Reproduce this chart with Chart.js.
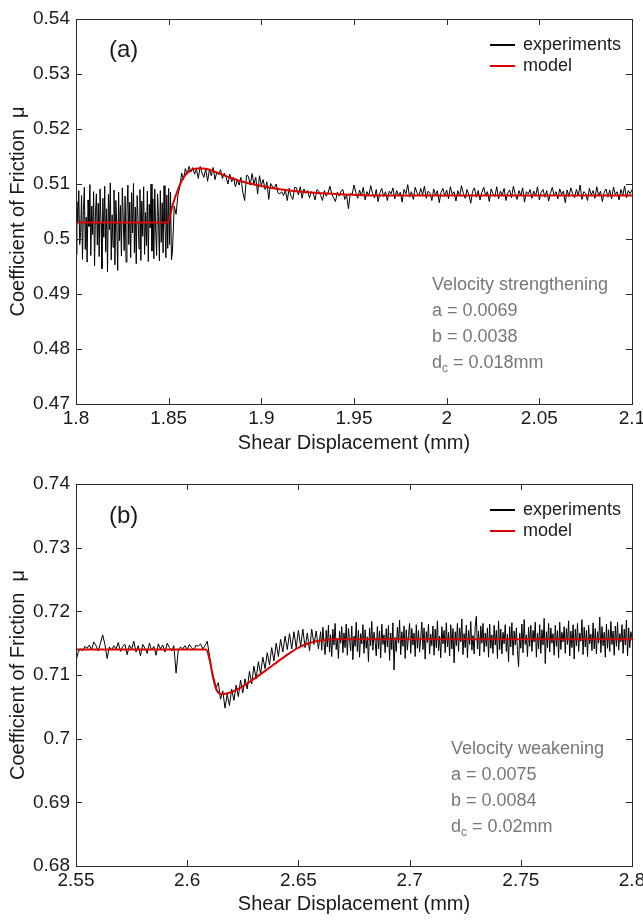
<!DOCTYPE html>
<html>
<head>
<meta charset="utf-8">
<script src="https://cdn.jsdelivr.net/npm/chart.js@4.4.0/dist/chart.umd.min.js"></script>
<style>
  html, body { margin: 0; padding: 0; background: #fff; }
  #wrap { position: relative; width: 643px; height: 922px; overflow: hidden; background: #fff; }
  #wrap canvas { position: absolute; left: 0; }
  #chartA { top: 0; }
  #chartB { top: 461px; }
</style>
</head>
<body>
<div id="wrap">
  <canvas id="chartA" width="660" height="461"></canvas>
  <canvas id="chartB" width="660" height="461"></canvas>
</div>
<script>
// ── Panel (a): velocity strengthening ───────────────────────
// fast-sampled noisy stretch: 1.8000 .. 1.8520 mm, every 0.0005 mm
const A_FINE_X0 = 1.8, A_FINE_DX = 0.0005;
const aExpFine = [
  0.4972,0.5068,0.5031,0.5088,0.4990,0.5012,0.5079,0.4963,0.5052,0.5094,
  0.4981,0.5040,0.4958,0.5071,0.5023,0.5099,0.4970,0.5060,0.5008,0.5086,
  0.4951,0.5047,0.5082,0.4989,0.5065,0.4968,0.5091,0.5030,0.4946,0.5074,
  0.5003,0.5096,0.4977,0.5055,0.4940,0.5081,0.5017,0.5102,0.4962,0.5044,
  0.4985,0.5089,0.4953,0.5070,0.5026,0.4943,0.5085,0.4997,0.5061,0.4969,
  0.5093,0.5036,0.4979,0.5078,0.4958,0.5050,0.5098,0.4990,0.5067,0.4966,
  0.5084,0.5011,0.5101,0.4975,0.5058,0.4955,0.5079,0.5034,0.4982,0.5090,
  0.4961,0.5069,0.5005,0.5095,0.4972,0.5048,0.4988,0.5087,0.4959,0.5063,
  0.5020,0.5100,0.4978,0.5073,0.4964,0.5091,0.5015,0.4970,0.5082,0.5041,
  0.4960,0.5088,0.4994,0.5066,0.4975,0.5097,0.5028,0.4966,0.5080,0.4983,
  0.5092,0.4990,0.5085,0.4962,0.4975
];
// rest of the run: 1.853 .. 2.100 mm, every 0.001 mm
const A_X0 = 1.853, A_DX = 0.001;
const aExp = [
                                   0.5060,0.5045,0.5080,0.5095,0.5120,0.5108,0.5128,
  0.5118,0.5132,0.5122,0.5130,0.5118,0.5127,0.5110,0.5132,0.5120,0.5112,
  0.5128,0.5105,0.5126,0.5115,0.5130,0.5108,0.5122,0.5117,0.5126,0.5110,
  0.5120,0.5112,0.5100,0.5118,0.5104,0.5112,0.5095,0.5108,0.5098,0.5112,
  0.5085,0.5070,0.5116,0.5114,0.5098,0.5119,0.5100,0.5112,0.5082,0.5115,
  0.5098,0.5108,0.5090,0.5104,0.5072,0.5101,0.5095,0.5093,0.5100,0.5084,
  0.5082,0.5086,0.5079,0.5089,0.5070,0.5092,0.5078,0.5072,0.5094,0.5093,
  0.5080,0.5095,0.5074,0.5091,0.5083,0.5088,0.5075,0.5086,0.5083,0.5071,
  0.5090,0.5087,0.5079,0.5070,0.5088,0.5078,0.5084,0.5096,0.5082,0.5075,
  0.5068,0.5085,0.5078,0.5087,0.5090,0.5072,0.5080,0.5055,0.5083,0.5081,
  0.5098,0.5085,0.5074,0.5089,0.5078,0.5094,0.5071,0.5086,0.5079,0.5097,
  0.5083,0.5075,0.5090,0.5068,0.5084,0.5092,0.5077,0.5086,0.5070,0.5087,
  0.5082,0.5093,0.5073,0.5088,0.5079,0.5085,0.5067,0.5090,0.5082,0.5099,
  0.5076,0.5086,0.5072,0.5094,0.5084,0.5078,0.5092,0.5080,0.5096,0.5074,
  0.5087,0.5083,0.5070,0.5091,0.5079,0.5088,0.5066,0.5085,0.5092,0.5077,
  0.5089,0.5073,0.5095,0.5081,0.5086,0.5069,0.5088,0.5078,0.5097,0.5083,
  0.5074,0.5090,0.5080,0.5065,0.5087,0.5093,0.5076,0.5088,0.5071,0.5085,
  0.5094,0.5079,0.5086,0.5068,0.5091,0.5082,0.5077,0.5095,0.5073,0.5087,
  0.5080,0.5092,0.5070,0.5084,0.5089,0.5075,0.5096,0.5081,0.5072,0.5088,
  0.5079,0.5093,0.5067,0.5086,0.5082,0.5090,0.5074,0.5087,0.5078,0.5095,
  0.5071,0.5085,0.5090,0.5076,0.5088,0.5069,0.5083,0.5094,0.5079,0.5086,
  0.5073,0.5091,0.5081,0.5087,0.5066,0.5089,0.5077,0.5093,0.5082,0.5075,
  0.5090,0.5079,0.5098,0.5072,0.5086,0.5083,0.5070,0.5092,0.5080,0.5088,
  0.5074,0.5095,0.5078,0.5087,0.5068,0.5085,0.5091,0.5076,0.5089,0.5073,
  0.5094,0.5081,0.5086,0.5071,0.5090,0.5079,0.5096,0.5075,0.5088,0.5082,
  0.5090
];
const aModelX = [1.8, 1.849, 1.850, 1.852, 1.855, 1.858, 1.861, 1.865, 1.869, 1.875, 1.882, 1.890, 1.902, 1.915, 1.929, 1.945, 1.96, 2.1];
const aModelY = [0.5030, 0.5030, 0.5034, 0.5060, 0.5090, 0.5112, 0.5123, 0.5128, 0.5128, 0.5122, 0.5113, 0.5104, 0.5095, 0.5088, 0.5084, 0.5081, 0.5079, 0.5079];
const aXTicks = [1.8, 1.85, 1.9, 1.95, 2, 2.05, 2.1];
const aYTicks = [0.47, 0.48, 0.49, 0.5, 0.51, 0.52, 0.53, 0.54];
const aNotes = ['Velocity strengthening', 'a = 0.0069', 'b = 0.0038', 'd_c = 0.018mm'];

// ── Panel (b): velocity weakening ───────────────────────────
// 2.550 .. 2.659 mm, every 0.001 mm
const B_X0 = 2.55, B_DX = 0.001;
const bExp = [
  0.7122,0.7136,0.7141,0.7138,0.7145,0.7142,0.7147,0.7140,0.7152,0.7146,
  0.7138,0.7150,0.7163,0.7148,0.7126,0.7144,0.7139,0.7146,0.7141,0.7151,
  0.7137,0.7145,0.7148,0.7132,0.7147,0.7140,0.7153,0.7136,0.7146,0.7130,
  0.7148,0.7142,0.7134,0.7150,0.7139,0.7145,0.7131,0.7149,0.7141,0.7147,
  0.7136,0.7150,0.7143,0.7138,0.7146,0.7103,0.7140,0.7144,0.7141,0.7146,
  0.7140,0.7148,0.7143,0.7139,0.7147,0.7145,0.7149,0.7141,0.7146,0.7153,
  0.7131,0.7108,0.7095,0.7080,0.7088,0.7062,0.7075,0.7048,0.7070,0.7052,
  0.7078,0.7060,0.7084,0.7066,0.7092,0.7072,0.7094,0.7078,0.7106,0.7086,
  0.7114,0.7094,0.7121,0.7102,0.7128,0.7110,0.7135,0.7116,0.7143,0.7122,
  0.7150,0.7129,0.7156,0.7136,0.7161,0.7140,0.7165,0.7141,0.7168,0.7143,
  0.7170,0.7145,0.7172,0.7143,0.7166,0.7138,0.7172,0.7148,0.7169,0.7141
];
// steady-state stretch: 2.6600 .. 2.8000 mm, every 0.0005 mm
const B_FINE_X0 = 2.66, B_FINE_DX = 0.0005;
const bExpFine = [
  0.7168,0.7139,0.7175,0.7151,0.7132,0.7170,0.7144,0.7178,0.7136,0.7163,
  0.7129,0.7172,0.7147,0.7181,0.7140,0.7158,0.7126,0.7169,0.7150,0.7176,
  0.7135,0.7166,0.7143,0.7180,0.7131,0.7173,0.7155,0.7138,0.7177,0.7124,
  0.7161,0.7145,0.7183,0.7137,0.7170,0.7128,0.7165,0.7149,0.7179,0.7134,
  0.7171,0.7142,0.7160,0.7121,0.7174,0.7146,0.7184,0.7139,0.7167,0.7153,
  0.7130,0.7176,0.7141,0.7169,0.7127,0.7180,0.7148,0.7163,0.7135,0.7173,
  0.7144,0.7178,0.7123,0.7166,0.7140,0.7182,0.7108,0.7159,0.7137,0.7175,
  0.7150,0.7186,0.7132,0.7168,0.7145,0.7177,0.7126,0.7171,0.7139,0.7162,
  0.7181,0.7134,0.7173,0.7147,0.7166,0.7129,0.7179,0.7142,0.7170,0.7136,
  0.7158,0.7183,0.7140,0.7174,0.7125,0.7168,0.7151,0.7180,0.7133,0.7164,
  0.7146,0.7177,0.7131,0.7172,0.7143,0.7185,0.7138,0.7161,0.7127,0.7176,
  0.7149,0.7170,0.7135,0.7182,0.7144,0.7167,0.7130,0.7179,0.7141,0.7173,
  0.7119,0.7168,0.7146,0.7181,0.7137,0.7174,0.7152,0.7188,0.7132,0.7165,
  0.7143,0.7178,0.7127,0.7170,0.7148,0.7184,0.7139,0.7162,0.7133,0.7176,
  0.7192,0.7141,0.7169,0.7130,0.7177,0.7150,0.7181,0.7136,0.7166,0.7145,
  0.7174,0.7128,0.7180,0.7142,0.7163,0.7134,0.7178,0.7147,0.7170,0.7126,
  0.7185,0.7140,0.7172,0.7133,0.7167,0.7149,0.7179,0.7137,0.7164,0.7121,
  0.7176,0.7144,0.7182,0.7131,0.7169,0.7147,0.7174,0.7138,0.7113,0.7166,
  0.7142,0.7180,0.7135,0.7187,0.7148,0.7163,0.7129,0.7175,0.7145,0.7178,
  0.7137,0.7170,0.7152,0.7183,0.7128,0.7166,0.7141,0.7179,0.7134,0.7171,
  0.7147,0.7189,0.7118,0.7168,0.7143,0.7181,0.7136,0.7174,0.7150,0.7165,
  0.7131,0.7178,0.7145,0.7170,0.7127,0.7183,0.7140,0.7167,0.7152,0.7176,
  0.7134,0.7173,0.7148,0.7185,0.7130,0.7169,0.7143,0.7179,0.7125,0.7172,
  0.7146,0.7181,0.7137,0.7166,0.7153,0.7187,0.7132,0.7175,0.7144,0.7170,
  0.7129,0.7178,0.7149,0.7164,0.7138,0.7182,0.7141,0.7173,0.7133,0.7168,
  0.7150,0.7191,0.7135,0.7176,0.7146,0.7167,0.7128,0.7180,0.7142,0.7171,
  0.7137,0.7184,0.7148,0.7169,0.7131,0.7177,0.7145,0.7183,0.7139,0.7165,
  0.7152,0.7179,0.7134,0.7172,0.7147,0.7186,0.7130,0.7174,0.7143,0.7168,
  0.7158
];
const bModelX = [2.55, 2.6085, 2.610, 2.6115, 2.613, 2.6155, 2.619, 2.624, 2.630, 2.636, 2.643, 2.651, 2.658, 2.666, 2.8];
const bModelY = [0.7140, 0.7140, 0.7125, 0.7098, 0.7078, 0.7070, 0.7072, 0.7080, 0.7094, 0.7109, 0.7127, 0.7145, 0.7153, 0.7156, 0.7156];
const bXTicks = [2.55, 2.6, 2.65, 2.7, 2.75, 2.8];
const bYTicks = [0.68, 0.69, 0.7, 0.71, 0.72, 0.73, 0.74];
const bNotes = ['Velocity weakening', 'a = 0.0075', 'b = 0.0084', 'd_c = 0.02mm'];

// ── Styling ─────────────────────────────────────────────────
const FONT = "'Liberation Sans', Arial, Helvetica, sans-serif";
const INK = '#1a1a1a';
const RED = '#d80000';
const GREY = '#777777';

// MATLAB-like frame: box, inward ticks, panel letter, legend, notes
const framePlugin = {
    id: 'frame',
    afterDatasetsDraw(chart, args, opts) {
        const { ctx, chartArea: a, scales: { x, y } } = chart;
        ctx.save();

        ctx.strokeStyle = '#2b2b2b';
        ctx.lineWidth = 1;
        ctx.strokeRect(Math.round(a.left) + 0.5, Math.round(a.top) + 0.5,
                       Math.round(a.right - a.left), Math.round(a.bottom - a.top));

        const TL = 6;
        ctx.beginPath();
        x.ticks.forEach(t => {
            const px = Math.round(x.getPixelForValue(t.value)) + 0.5;
            ctx.moveTo(px, a.bottom); ctx.lineTo(px, a.bottom - TL);
            ctx.moveTo(px, a.top);    ctx.lineTo(px, a.top + TL);
        });
        y.ticks.forEach(t => {
            const py = Math.round(y.getPixelForValue(t.value)) + 0.5;
            ctx.moveTo(a.left, py);  ctx.lineTo(a.left + TL, py);
            ctx.moveTo(a.right, py); ctx.lineTo(a.right - TL, py);
        });
        ctx.stroke();

        // panel letter
        ctx.fillStyle = INK;
        ctx.textBaseline = 'middle';
        ctx.textAlign = 'left';
        ctx.font = '24px ' + FONT;
        ctx.fillText(opts.letter, a.left + 33, a.top + opts.letterDy);

        // legend
        ctx.font = '18px ' + FONT;
        chart.data.datasets.forEach((ds, i) => {
            const ly = a.top + opts.legendDy + i * opts.legendGap;
            ctx.strokeStyle = ds.borderColor;
            ctx.lineWidth = 2;
            ctx.beginPath();
            ctx.moveTo(a.right - 142, ly);
            ctx.lineTo(a.right - 117, ly);
            ctx.stroke();
            ctx.fillStyle = INK;
            ctx.fillText(ds.label, a.right - 109, ly);
        });

        // parameter notes
        ctx.fillStyle = GREY;
        opts.notes.forEach((line, i) => {
            const ny = a.top + opts.notesDy + i * 26;
            let nx = a.left + opts.notesDx;
            ctx.font = '18px ' + FONT;
            const parts = line.split('_');
            if (parts.length === 2) {
                ctx.fillText(parts[0], nx, ny);
                nx += ctx.measureText(parts[0]).width;
                const sub = parts[1].charAt(0);
                ctx.font = '12px ' + FONT;
                ctx.fillText(sub, nx, ny + 6);
                nx += ctx.measureText(sub).width;
                ctx.font = '18px ' + FONT;
                ctx.fillText(parts[1].slice(1), nx, ny);
            } else {
                ctx.fillText(line, nx, ny);
            }
        });

        ctx.restore();
    }
};

// join evenly sampled pieces into one {x,y} series
function samples(pieces) {
    const out = [];
    pieces.forEach(([x0, dx, vals]) => {
        vals.forEach((v, i) => out.push({ x: +(x0 + i * dx).toFixed(4), y: v }));
    });
    return out;
}

function makePanel(id, p) {
    const modelData = p.modelX.map((x, i) => ({ x, y: p.modelY[i] }));

    new Chart(document.getElementById(id), {
        type: 'line',
        data: {
            datasets: [
                { label: 'experiments', data: samples(p.pieces), borderColor: '#000', borderWidth: 1,
                  pointRadius: 0, tension: 0, order: 1 },
                { label: 'model', data: modelData, borderColor: RED, borderWidth: 2,
                  pointRadius: 0, cubicInterpolationMode: 'monotone', order: 0 },
            ],
        },
        options: {
            responsive: false,
            animation: false,
            events: [],
            layout: { padding: { left: 0, right: 28, top: p.padTop, bottom: 0 } },
            plugins: {
                legend: { display: false },
                tooltip: { enabled: false },
                frame: p.frame,
            },
            scales: {
                x: {
                    type: 'linear',
                    min: p.xTicks[0],
                    max: p.xTicks[p.xTicks.length - 1],
                    grid: { display: false, drawTicks: false },
                    border: { display: false },
                    afterBuildTicks: s => { s.ticks = p.xTicks.map(v => ({ value: v })); },
                    afterFit: s => { s.height = p.xAxisH; },
                    ticks: {
                        autoSkip: false, maxRotation: 0, padding: 3,
                        color: INK, font: { family: FONT, size: 19 },
                        callback: v => String(v),
                    },
                    title: {
                        display: true, text: 'Shear Displacement (mm)', color: INK,
                        font: { family: FONT, size: 20 }, padding: { top: 0, bottom: 6 },
                    },
                },
                y: {
                    min: p.yTicks[0],
                    max: p.yTicks[p.yTicks.length - 1],
                    grid: { display: false, drawTicks: false },
                    border: { display: false },
                    afterBuildTicks: s => { s.ticks = p.yTicks.map(v => ({ value: v })); },
                    afterFit: s => { s.width = 76; },
                    ticks: {
                        padding: 6,
                        color: INK, font: { family: FONT, size: 19 },
                        callback: v => String(v),
                    },
                    title: {
                        display: true, text: 'Coefficient of Friction  μ', color: INK,
                        font: { family: FONT, size: 20 }, padding: { top: 6, bottom: 0 },
                    },
                },
            },
        },
        plugins: [framePlugin],
    });
}

makePanel('chartA', {
    pieces: [[A_FINE_X0, A_FINE_DX, aExpFine], [A_X0, A_DX, aExp]],
    modelX: aModelX, modelY: aModelY,
    xTicks: aXTicks, yTicks: aYTicks, padTop: 19, xAxisH: 57,
    frame: { letter: '(a)', letterDy: 31, legendDy: 26, legendGap: 21,
             notes: aNotes, notesDx: 356, notesDy: 266 },
});

makePanel('chartB', {
    pieces: [[B_X0, B_DX, bExp], [B_FINE_X0, B_FINE_DX, bExpFine]],
    modelX: bModelX, modelY: bModelY,
    xTicks: bXTicks, yTicks: bYTicks, padTop: 23, xAxisH: 56,
    frame: { letter: '(b)', letterDy: 32, legendDy: 26, legendGap: 21,
             notes: bNotes, notesDx: 375, notesDy: 265 },
});
</script>
</body>
</html>
